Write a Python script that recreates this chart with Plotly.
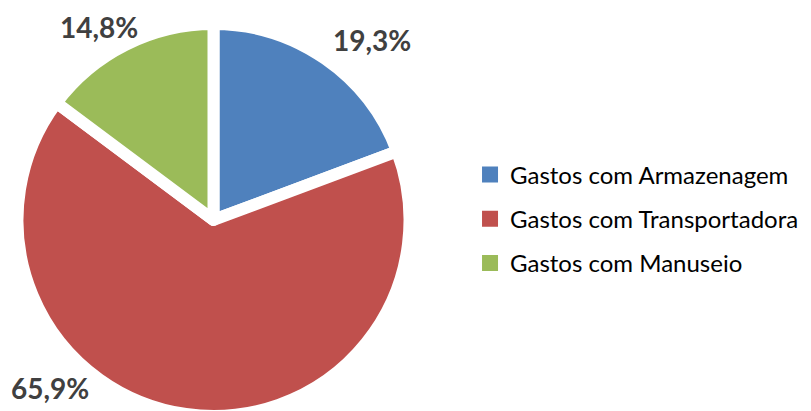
import plotly.graph_objects as go

categories = ["Gastos com Armazenagem", "Gastos com Transportadora", "Gastos com Manuseio"]
values = [19.3, 65.9, 14.8]
colors = ["#4F81BD", "#C0504D", "#9BBB59"]

# label positions (paper coords) for each slice's percentage label
label_pos = [(0.4488, 0.9221), (0.0518, 0.0754), (0.1122, 0.9538)]

def fmt(v):
    return f"{v:.1f}".replace(".", ",") + "%"

fig = go.Figure()
fig.add_trace(go.Pie(
    labels=categories,
    values=values,
    sort=False,
    direction="clockwise",
    rotation=0,
    marker=dict(colors=colors, line=dict(color="white", width=12)),
    textinfo="none",
    hoverinfo="label+percent",
    showlegend=False,
    domain=dict(x=[0.01171, 0.49507], y=[0.0073, 0.9611]),
))

# legend entries (square markers) for each category
for i, (cat, col) in enumerate(zip(categories, colors)):
    fig.add_trace(go.Scatter(
        x=[None], y=[None], mode="markers", name=cat,
        marker=dict(symbol="square", size=16, color=col),
        legendgroup=f"g{i}", showlegend=True, hoverinfo="skip",
    ))

for v, (x, y) in zip(values, label_pos):
    fig.add_annotation(
        x=x, y=y, xref="paper", yref="paper",
        text=f"<b>{fmt(v)}</b>", showarrow=False,
        font=dict(family="Lato", size=28, color="#404040"),
        xanchor="center", yanchor="middle", borderpad=0,
    )

fig.update_layout(
    width=811, height=411,
    margin=dict(l=0, r=0, t=0, b=0),
    paper_bgcolor="white",
    plot_bgcolor="white",
    showlegend=True,
    xaxis=dict(visible=False),
    yaxis=dict(visible=False),
    legend=dict(
        x=0.5697, y=0.4866, xanchor="left", yanchor="middle",
        font=dict(family="Lato", size=24, color="#000000"),
        bgcolor="rgba(0,0,0,0)",
        traceorder="grouped", tracegroupgap=10,
    ),
)

fig.write_html("out.html")
